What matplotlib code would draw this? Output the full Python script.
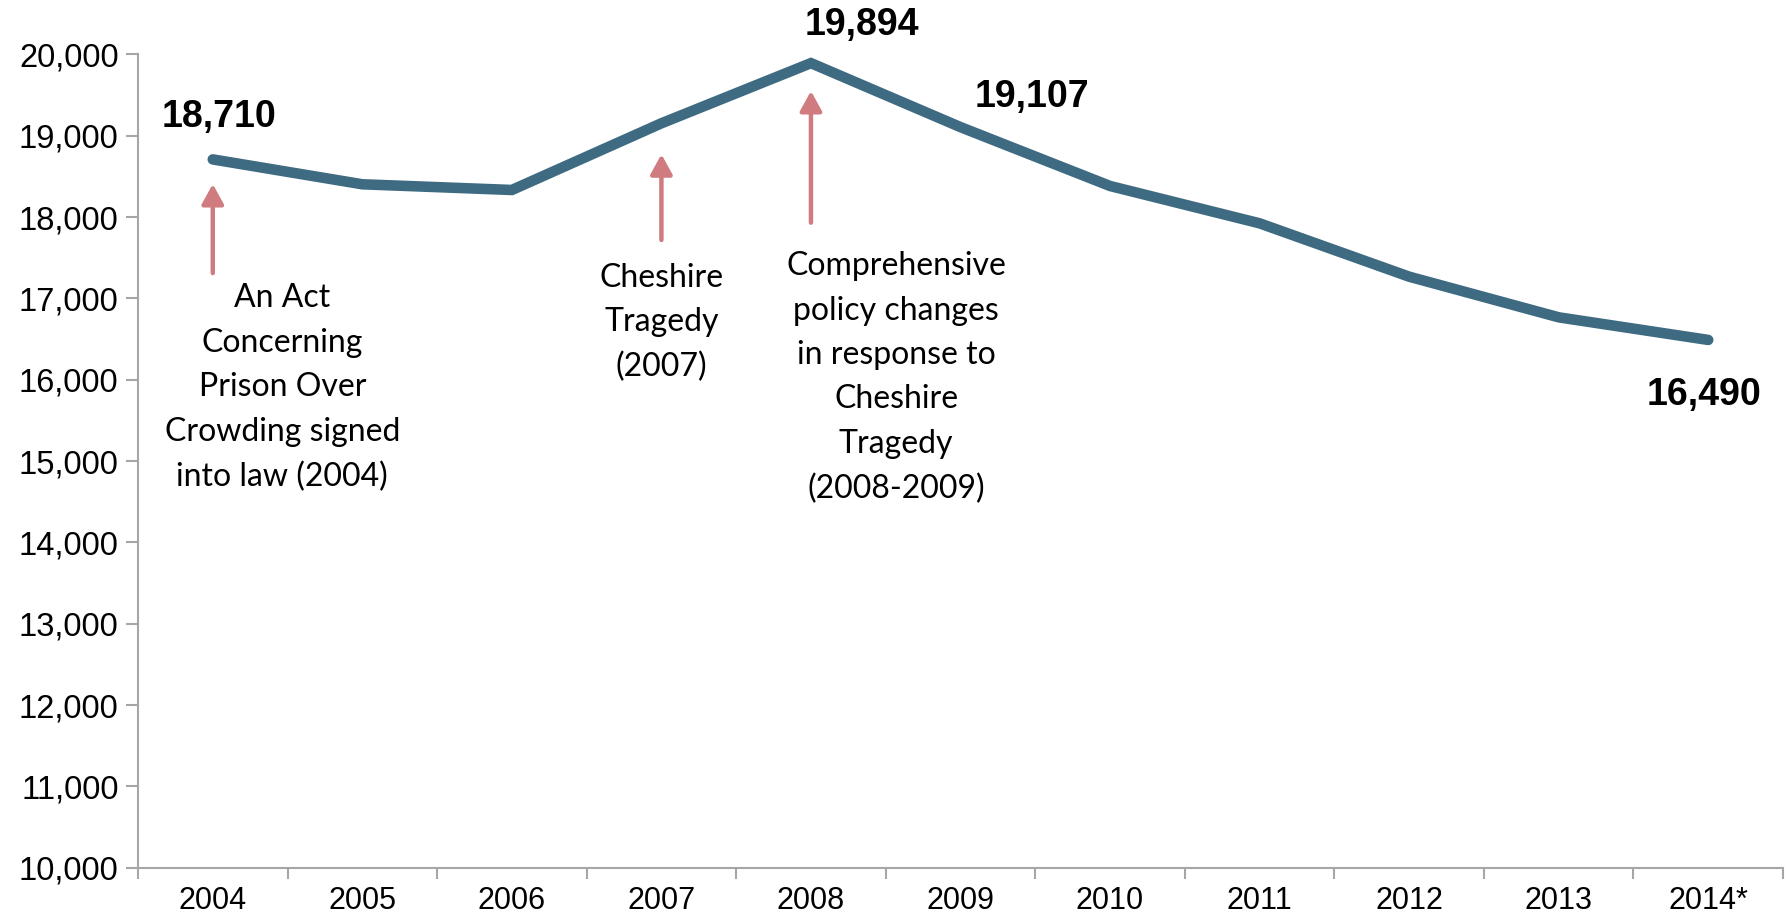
import matplotlib
matplotlib.use("Agg")
import matplotlib.pyplot as plt
from matplotlib.ticker import FuncFormatter

# data
years = ["2004", "2005", "2006", "2007", "2008", "2009", "2010", "2011", "2012", "2013", "2014*"]
population = [18710, 18404, 18334, 19154, 19894, 19107, 18383, 17924, 17268, 16768, 16490]

# labelled points (index into years) and where their numbers sit
label_idx = [0, 4, 5, 10]
label_pos = [(0.04, 19231), (4.34, 20363), (5.48, 19477), (9.97, 15813)]

# event arrows: year index, tail value, tip value
events = [
    "An Act\nConcerning\nPrison Over\nCrowding signed\ninto law (2004)",
    "Cheshire\nTragedy\n(2007)",
    "Comprehensive\npolicy changes\nin response to\nCheshire\nTragedy\n(2008-2009)",
]
event_idx = [0, 3, 4]
arrow_tail = [17312, 17719, 17932]
arrow_tip = [18407, 18773, 19551]
event_text_pos = [(0.465, 15905), (3.0, 16704), (4.57, 16028)]

line_color = "#3E6B82"
arrow_color = "#D07B7F"
axis_gray = "#A6A6A6"

fig = plt.figure(figsize=(17.87, 9.23), dpi=100)
ax = fig.add_axes([138 / 1787, 55.3 / 923, 1645 / 1787, 813.2 / 923])

x = list(range(len(years)))
ax.plot(x, population, color=line_color, lw=7.6, solid_capstyle="round",
        solid_joinstyle="miter", zorder=3)

ax.set_xlim(-0.5, len(years) - 0.5)
ax.set_ylim(10000, 20000)
ax.set_yticks(range(10000, 20001, 1000))
ax.yaxis.set_major_formatter(FuncFormatter(lambda v, p: "{:,.0f}".format(v)))

# category ticks between years, labels centred under each year
ax.set_xticks([i - 0.5 for i in range(len(years) + 1)])
ax.set_xticklabels([])
ax.set_xticks(x, minor=True)
ax.set_xticklabels(years, minor=True)
ax.tick_params(axis="x", which="minor", length=0, pad=13)
ax.tick_params(axis="x", which="major", length=8, width=1.5, color=axis_gray)
ax.tick_params(axis="y", length=9, width=1.5, color=axis_gray, pad=5)

for lab in ax.get_xticklabels(minor=True):
    lab.set_fontfamily("Liberation Sans")
    lab.set_fontsize(22)
for lab in ax.get_yticklabels():
    lab.set_fontfamily("Liberation Sans")
    lab.set_fontsize(23.5)

for s in ["top", "right"]:
    ax.spines[s].set_visible(False)
for s in ["left", "bottom"]:
    ax.spines[s].set_color(axis_gray)
    ax.spines[s].set_linewidth(1.5)

for i, (lx, ly) in zip(label_idx, label_pos):
    ax.text(lx, ly, "{:,}".format(population[i]), ha="center", va="center",
            fontsize=27, fontweight="bold", fontfamily="Liberation Sans")

for txt, i, tail, tip, (tx, ty) in zip(events, event_idx, arrow_tail, arrow_tip, event_text_pos):
    ax.annotate("", xy=(i, tip), xytext=(i, tail),
                arrowprops=dict(arrowstyle="-|>,head_length=0.6,head_width=0.33",
                                color=arrow_color, lw=3.2, mutation_scale=20,
                                shrinkA=0, shrinkB=0))
    ax.text(tx, ty, txt, ha="center", va="center", fontsize=23,
            fontfamily="Lato", linespacing=1.6)

fig.savefig("out.png", dpi=100)
